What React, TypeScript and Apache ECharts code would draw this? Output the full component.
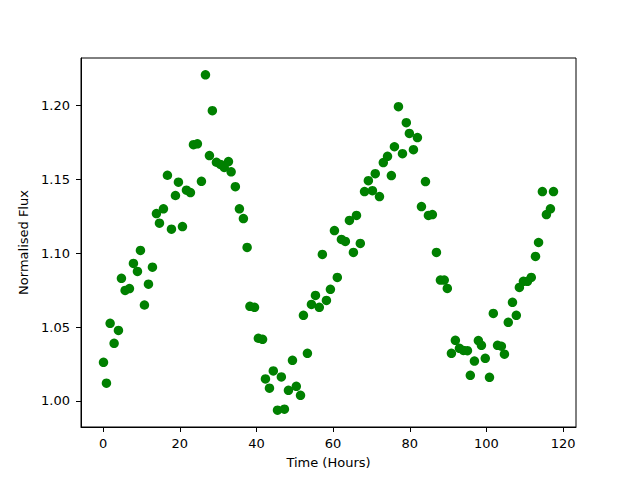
import React, { useEffect, useRef } from "react";
import * as echarts from "echarts";

const timeHours = [
  0.1, 0.87, 1.83, 2.87, 4.0, 4.78, 5.74, 6.87, 7.91, 8.96, 9.74, 10.78, 11.83, 12.87,
  13.91, 14.7, 15.74, 16.78, 17.83, 18.87, 19.65, 20.7, 21.74, 22.78, 23.57, 24.6,
  25.65, 26.7, 27.74, 28.5, 29.56, 30.6, 31.6, 32.7, 33.4, 34.5, 35.56, 36.6, 37.57,
  38.3, 39.5, 40.5, 41.6, 42.35, 43.4, 44.4, 45.5, 46.5, 47.3, 48.35, 49.4, 50.4,
  51.5, 52.26, 53.3, 54.35, 55.4, 56.4, 57.2, 58.26, 59.3, 60.35, 61.1, 62.17, 63.2,
  64.26, 65.3, 66.1, 67.1, 68.2, 69.2, 70.26, 71.0, 72.1, 73.1, 74.2, 75.2, 76.0,
  77.05, 78.1, 79.1, 79.9, 80.96, 82.0, 83.05, 84.1, 84.87, 85.9, 86.96, 88.0, 89.0,
  89.8, 90.87, 91.9, 92.96, 94.0, 95.05, 95.8, 96.87, 97.9, 98.7, 99.7, 100.8,
  101.8, 102.9, 103.9, 104.7, 105.7, 106.8, 107.8, 108.6, 109.65, 110.7, 111.7,
  112.8, 113.6, 114.6, 115.65, 116.7, 117.5,
];

const normalisedFlux = [
  1.0261, 1.012, 1.0525, 1.039, 1.0477, 1.083, 1.0748, 1.076, 1.093, 1.0876, 1.1018,
  1.0649, 1.079, 1.0905, 1.1268, 1.1203, 1.13, 1.1527, 1.1162, 1.139, 1.148, 1.118,
  1.1426, 1.141, 1.1734, 1.174, 1.1486, 1.2207, 1.166, 1.1964, 1.1615, 1.16, 1.158,
  1.162, 1.155, 1.145, 1.13, 1.1234, 1.1039, 1.064, 1.0633, 1.0424, 1.0417, 1.0149,
  1.0086, 1.0203, 0.9937, 1.0162, 0.9944, 1.0072, 1.0275, 1.0099, 1.0038, 1.0579,
  1.0322, 1.0653, 1.0714, 1.0633, 1.0991, 1.068, 1.0755, 1.1153, 1.0836, 1.1093,
  1.1079, 1.1221, 1.1005, 1.1255, 1.1066, 1.1417, 1.149, 1.1423, 1.1538, 1.1383,
  1.1613, 1.1655, 1.1525, 1.172, 1.1991, 1.1673, 1.1883, 1.181, 1.17, 1.1782, 1.1315,
  1.1484, 1.1255, 1.1261, 1.1005, 1.0818, 1.0818, 1.0761, 1.0322, 1.041, 1.0356,
  1.0342, 1.034, 1.0173, 1.027, 1.0408, 1.0376, 1.0288, 1.016, 1.0592, 1.0376, 1.037,
  1.0316, 1.0532, 1.0667, 1.0579, 1.0768, 1.0809, 1.0809, 1.0836, 1.0978, 1.1072,
  1.1417, 1.1261, 1.13, 1.1417,
];

const xTicks = [0, 20, 40, 60, 80, 100, 120];
const yTicks = [1.0, 1.05, 1.1, 1.15, 1.2];

const FONT = "DejaVu Sans";

export default function App() {
  const ref = useRef<HTMLDivElement>(null);
  useEffect(() => {
    if (!ref.current) return;
    const chart = echarts.init(ref.current, null, { renderer: "svg" });
    const data = timeHours.map((t, i) => [t, normalisedFlux[i]]);
    const tMin = Math.min(...timeHours);
    const tMax = Math.max(...timeHours);
    const fMin = Math.min(...normalisedFlux);
    const fMax = Math.max(...normalisedFlux);
    const tPad = (tMax - tMin) * 0.05;
    const fPad = (fMax - fMin) * 0.05;
    chart.setOption({
      animation: false,
      backgroundColor: "#ffffff",
      grid: {
        left: 81,
        top: 58,
        width: 495,
        height: 369,
        show: true,
        borderColor: "#000000",
        borderWidth: 1,
        backgroundColor: "transparent",
      },
      xAxis: {
        type: "value",
        min: tMin - tPad,
        max: tMax + tPad,
        name: "Time (Hours)",
        nameLocation: "middle",
        nameGap: 29,
        nameTextStyle: { fontFamily: FONT, fontSize: 13, color: "#000" },
        splitLine: { show: false },
        axisLine: { show: true, onZero: false, lineStyle: { color: "#000", width: 1 } },
        axisTick: {
          show: true,
          length: 5,
          inside: false,
          customValues: xTicks,
          lineStyle: { color: "#000", width: 1 },
        },
        axisLabel: {
          customValues: xTicks,
          margin: 10,
          fontFamily: FONT,
          fontSize: 13,
          color: "#000",
          formatter: (v: number) => String(Math.round(v)),
        },
      },
      yAxis: {
        type: "value",
        min: fMin - fPad,
        max: fMax + fPad,
        name: "Normalised Flux",
        nameLocation: "middle",
        nameGap: 47,
        nameTextStyle: { fontFamily: FONT, fontSize: 13, color: "#000" },
        splitLine: { show: false },
        axisLine: { show: true, onZero: false, lineStyle: { color: "#000", width: 1 } },
        axisTick: {
          show: true,
          length: 5,
          inside: false,
          customValues: yTicks,
          lineStyle: { color: "#000", width: 1 },
        },
        axisLabel: {
          customValues: yTicks,
          margin: 11,
          fontFamily: FONT,
          fontSize: 13,
          color: "#000",
          formatter: (v: number) => v.toFixed(2),
        },
      },
      series: [
        {
          type: "scatter",
          data,
          symbol: "circle",
          symbolSize: 9.5,
          itemStyle: { color: "#008000", opacity: 1 },
        },
      ],
    });
    return () => chart.dispose();
  }, []);
  return (
    <div
      ref={ref}
      style={{ position: "absolute", left: 0, top: 0, width: 640, height: 480 }}
    />
  );
}
